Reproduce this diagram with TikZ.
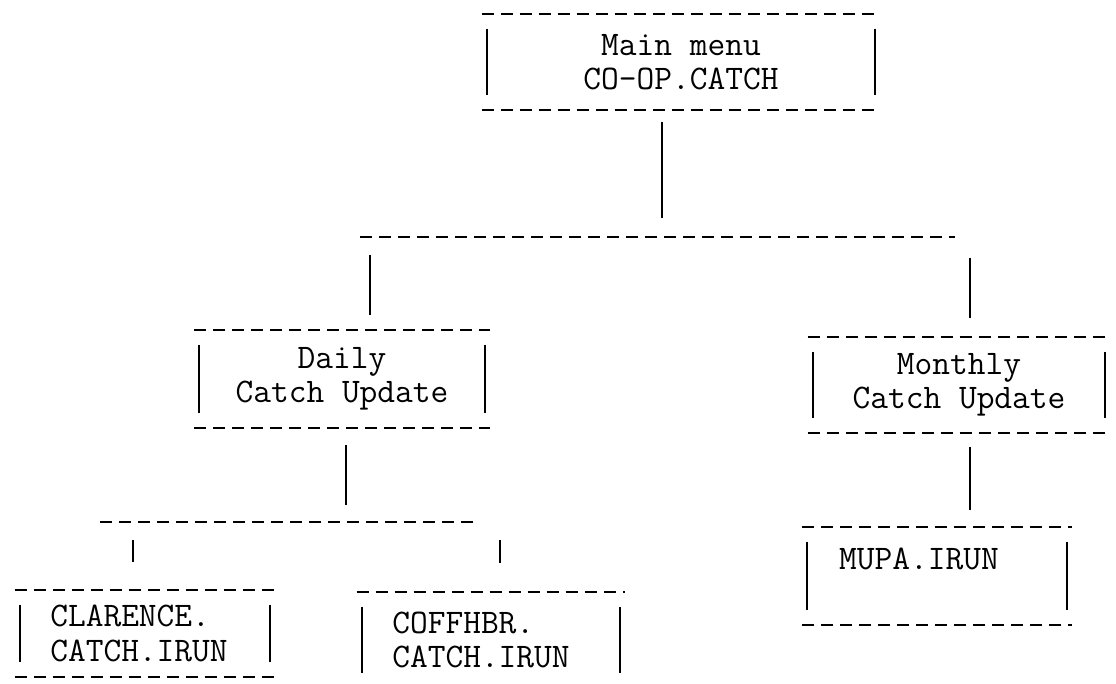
\documentclass[tikz,border=0pt]{standalone}
\usepackage{fontspec}
\tikzset{
  menubox/.style={rectangle, inner sep=0pt, align=center,
    font=\ttfamily\fontsize{24.5}{24.5}\selectfont},
  dashrule/.style={line width=1.6pt, dash pattern=on 0.3cm off 0.175cm},
  siderule/.style={line width=1.3pt},
  conn/.style={line width=1.3pt},
}
\begin{document}
\begin{tikzpicture}[x=0.025cm, y=-0.025cm]
\useasboundingbox[fill=white] (0,0) rectangle (1116,683);
\clip (0,0) rectangle (1116,683);
% boxes
\node (main)     at (681,62)    [menubox, minimum width=9.95cm, minimum height=2.4cm] {Main menu\\CO-OP.CATCH};
\node (daily)    at (342,379)   [menubox, minimum width=7.375cm, minimum height=2.45cm] {Daily\\Catch Update};
\node (monthly)  at (959,385)   [menubox, minimum width=7.55cm, minimum height=2.4cm] {Monthly\\Catch Update};
\node (mupa)     at (937,576)   [menubox, align=left, minimum width=6.725cm, minimum height=2.45cm] {MUPA.IRUN\hspace*{0.9cm}\\\mbox{}};
\node (clarence) at (145,633.5) [menubox, align=left, minimum width=6.5cm, minimum height=2.175cm] {CLARENCE.\\CATCH.IRUN\hspace*{0.3cm}};
\node (coffhbr)  at (491,640)   [menubox, align=left, minimum width=6.7cm, minimum height=2.4cm] {COFFHBR.\\CATCH.IRUN\hspace*{0.5cm}};
\foreach \b in {main,daily,monthly,mupa,clarence,coffhbr} {
  \draw[dashrule] (\b.north west) -- (\b.north east);
  \draw[dashrule] (\b.south west) -- (\b.south east);
  \draw[siderule] ([shift={(5,15)}]\b.north west) -- ([shift={(5,-15)}]\b.south west);
  \draw[siderule] ([shift={(-5,15)}]\b.north east) -- ([shift={(-5,-15)}]\b.south east);
}
% first split
\coordinate (trunk) at (662,237);
\coordinate (fork1w) at (360,237);
\coordinate (fork1e) at (955,237);
\coordinate (drop1) at (370,237);
\coordinate (drop2) at (970,237);
\draw[dashrule] (fork1w) -- (fork1e);
\draw[conn, shorten <=0.3cm, shorten >=0.475cm] (main.south -| trunk) -- (trunk);
\draw[conn, shorten <=0.45cm, shorten >=0.375cm] (drop1) -- (drop1 |- daily.north);
\draw[conn, shorten <=0.525cm, shorten >=0.475cm] (drop2) -- (drop2 |- monthly.north);
% second split
\coordinate (fork2) at (346,522);
\coordinate (fork2w) at (100,522);
\coordinate (fork2e) at (480,522);
\coordinate (drop3) at (133,522);
\coordinate (drop4) at (500,522);
\draw[dashrule] (fork2w) -- (fork2e);
\draw[conn, shorten <=0.425cm, shorten >=0.425cm] (daily.south -| fork2) -- (fork2);
\draw[conn, shorten <=0.45cm, shorten >=0.7cm] (drop3) -- (drop3 |- clarence.north);
\draw[conn, shorten <=0.45cm, shorten >=0.725cm] (drop4) -- (drop4 |- coffhbr.north);
\draw[conn, shorten <=0.35cm, shorten >=0.425cm] (monthly.south -| drop2) -- (drop2 |- mupa.north);
\end{tikzpicture}
\end{document}
